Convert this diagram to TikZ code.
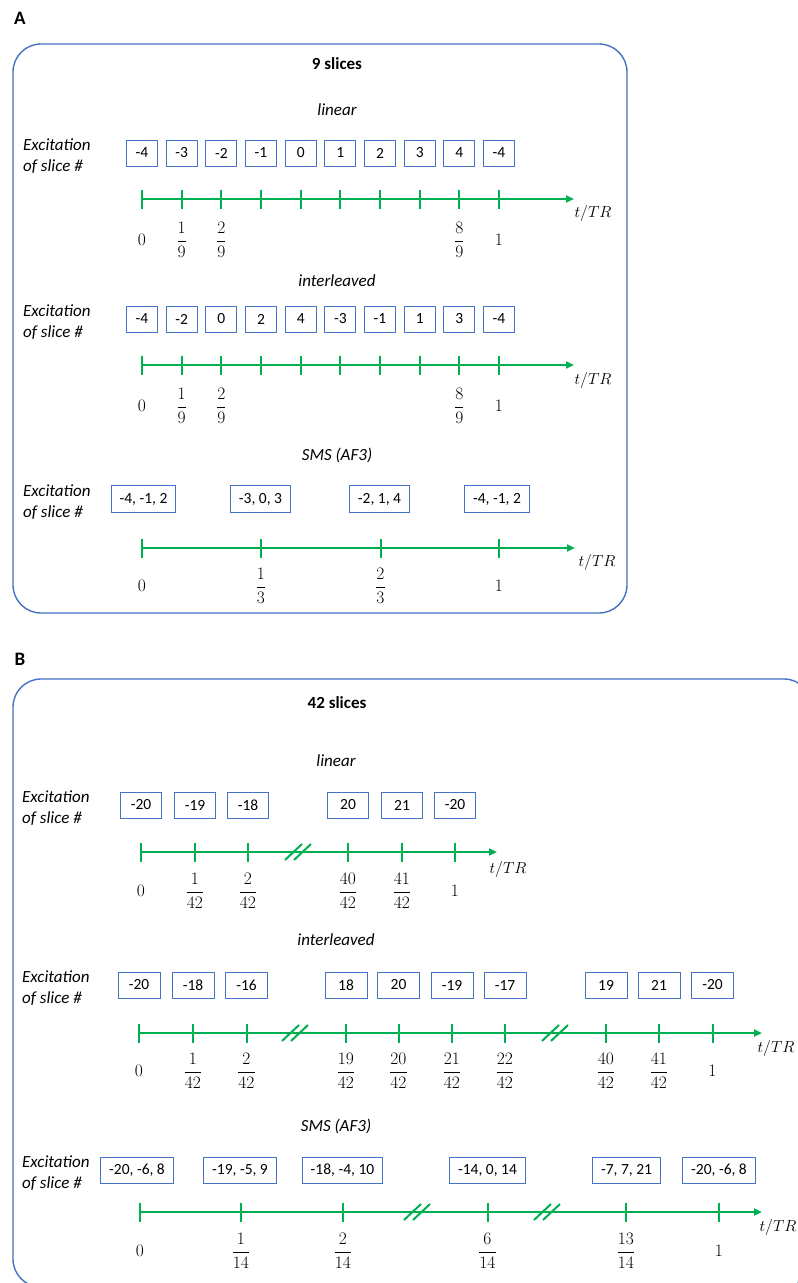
\RequirePackage{fix-cm}
\documentclass[tikz,border=0pt]{standalone}
\usepackage[no-math]{fontspec}
\setmainfont{Carlito}
\usetikzlibrary{arrows.meta}
\definecolor{boxblue}{RGB}{68,114,196}
\definecolor{axgreen}{RGB}{0,176,80}

\begin{document}
\begin{tikzpicture}[x=1pt, y=-1pt, >={Triangle[length=8pt,width=7pt]},
    slicebox/.style={draw=boxblue, line width=0.9pt, minimum width=31pt, minimum height=26pt,
      inner sep=0pt, font=\fontsize{15.5}{18}\selectfont},
    widebox/.style={slicebox, minimum width=41pt},
    smsbox/.style={slicebox, inner xsep=8.5pt},
    axisline/.style={axgreen, line width=2.6pt, ->},
    tickmark/.style={axgreen, line width=2pt},
    breakmark/.style={axgreen, line width=2pt},
    panel/.style={draw=boxblue, line width=1.4pt, rounded corners=28pt},
    heading/.style={font=\fontsize{17}{20}\selectfont\bfseries},
    rowtitle/.style={font=\fontsize{17}{20}\selectfont\itshape},
    rowlabel/.style={font=\fontsize{17}{21}\selectfont\itshape, align=left, anchor=west, inner sep=0pt},
    ticklabel/.style={font=\fontsize{17.5}{20}\selectfont, inner sep=0pt},
    axislabel/.style={font=\fontsize{16}{20}\selectfont, inner sep=0pt}]
    \useasboundingbox (0,0) rectangle (798,1283);

    % panel A
    \node[heading, font=\fontsize{19}{22}\selectfont\bfseries] (lblA) at (20,18) {A};
    \draw[panel] (13,44) rectangle (627,613);
    \node[heading] (titleA) at (337,64) {9 slices};

    % A: linear
    \node[rowtitle] (linA) at (337,110) {linear};
    \node[rowlabel] (excA1) at (23,156) {Excitation\\of slice \#};
    \foreach \v [count=\k from 0] in {-4,-3,-2,-1,0,1,2,3,4,-4}
        \node[slicebox] (linA-\k) at ({142+39.67*\k},153) {\v};
    \coordinate (linA-s) at (142,199);
    \coordinate (linA-e) at (574,199);
    \draw[axisline] (linA-s) -- (linA-e);
    \foreach \k in {0,...,9}
        \draw[tickmark] ({142+39.67*\k},189.5) -- ++(0,19);
    \foreach \x/\t [count=\k] in {142/0,181.7/\frac{1}{9},221.3/\frac{2}{9},459.3/\frac{8}{9},499/1}
        \node[ticklabel] (linA-l\k) at (\x,240) {$\displaystyle\t$};
    \node[axislabel] (linA-ax) at (593,213) {$t/TR$};

    % A: interleaved
    \node[rowtitle] (intA) at (337,281) {interleaved};
    \node[rowlabel] (excA2) at (23,322) {Excitation\\of slice \#};
    \foreach \v [count=\k from 0] in {-4,-2,0,2,4,-3,-1,1,3,-4}
        \node[slicebox] (intA-\k) at ({142+39.67*\k},319) {\v};
    \coordinate (intA-s) at (142,365);
    \coordinate (intA-e) at (574,365);
    \draw[axisline] (intA-s) -- (intA-e);
    \foreach \k in {0,...,9}
        \draw[tickmark] ({142+39.67*\k},355.5) -- ++(0,19);
    \foreach \x/\t [count=\k] in {142/0,181.7/\frac{1}{9},221.3/\frac{2}{9},459.3/\frac{8}{9},499/1}
        \node[ticklabel] (intA-l\k) at (\x,406) {$\displaystyle\t$};
    \node[axislabel] (intA-ax) at (593,380) {$t/TR$};

    % A: SMS
    \node[rowtitle] (smsA) at (337,455) {SMS (AF3)};
    \node[rowlabel] (excA3) at (23,502) {Excitation\\of slice \#};
    \foreach \x/\v [count=\k] in {143.5/{-4, -1, 2},260.5/{-3, 0, 3},379.5/{-2, 1, 4},497/{-4, -1, 2}}
        \node[smsbox, minimum height=27pt] (smsA-\k) at (\x,499) {\v};
    \coordinate (smsA-s) at (142,548);
    \coordinate (smsA-e) at (575,548);
    \draw[axisline] (smsA-s) -- (smsA-e);
    \foreach \x in {142,261,380.5,499}
        \draw[tickmark] (\x,538.5) -- ++(0,19);
    \foreach \x/\t [count=\k] in {142/0,261/\frac{1}{3},380.5/\frac{2}{3},499/1}
        \node[ticklabel] (smsA-l\k) at (\x,586) {$\displaystyle\t$};
    \node[axislabel] (smsA-ax) at (597,562) {$t/TR$};

    % panel B
    \node[heading, font=\fontsize{19}{22}\selectfont\bfseries] (lblB) at (20,659) {B};
    \begin{scope}
        \clip (0,0) rectangle (798,1283);
        \draw[panel] (13,679) rectangle (812,1287);
    \end{scope}
    \node[heading] (titleB) at (337,703) {42 slices};

    % B: linear
    \node[rowtitle] (linB) at (336,761) {linear};
    \node[rowlabel] (excB1) at (22,808) {Excitation\\of slice \#};
    \foreach \x/\v [count=\k] in {141/-20,195/-19,248/-18,348/20,402/21,455/-20}
        \node[widebox] (linB-\k) at (\x,805) {\v};
    \coordinate (linB-s) at (141,852);
    \coordinate (linB-e) at (497,852);
    \draw[axisline] (linB-s) -- (linB-e);
    \foreach \x in {141,195,248,348,402,455}
        \draw[tickmark] (\x,842.5) -- ++(0,19);
    \foreach \c in {298} {
        \draw[breakmark] ({\c-13},860) -- ++(17,-16);
        \draw[breakmark] ({\c-4},860) -- ++(17,-16);
    }
    \foreach \x/\t [count=\k] in {141/0,195/\frac{1}{42},248/\frac{2}{42},348/\frac{40}{42},402/\frac{41}{42},455/1}
        \node[ticklabel] (linB-l\k) at (\x,891) {$\displaystyle\t$};
    \node[axislabel] (linB-ax) at (508,869) {$t/TR$};

    % B: interleaved
    \node[rowtitle] (intB) at (336,940) {interleaved};
    \node[rowlabel] (excB2) at (22,988) {Excitation\\of slice \#};
    \foreach \x/\v [count=\k] in {139/-20,193/-18,246.5/-16,346/18,398.5/20,452/-19,505/-17,606/19,659/21,712.5/-20}
        \node[widebox, minimum width=42pt] (intB-\k) at (\x,985) {\v};
    \coordinate (intB-s) at (139,1033);
    \coordinate (intB-e) at (762,1033);
    \draw[axisline] (intB-s) -- (intB-e);
    \foreach \x in {139,193,246.5,346,398.5,452,505,606,659,712.5}
        \draw[tickmark] (\x,1023.5) -- ++(0,19);
    \foreach \c in {295,555} {
        \draw[breakmark] ({\c-13},1041) -- ++(17,-16);
        \draw[breakmark] ({\c-4},1041) -- ++(17,-16);
    }
    \foreach \x/\t [count=\k] in {139/0,193/\frac{1}{42},246.5/\frac{2}{42},346/\frac{19}{42},398.5/\frac{20}{42},
        452/\frac{21}{42},505/\frac{22}{42},606/\frac{40}{42},659/\frac{41}{42},712.5/1}
        \node[ticklabel] (intB-l\k) at (\x,1071) {$\displaystyle\t$};
    \node[axislabel] (intB-ax) at (776,1048) {$t/TR$};

    % B: SMS
    \node[rowtitle] (smsB) at (336,1126) {SMS (AF3)};
    \node[rowlabel] (excB3) at (22,1173) {Excitation\\of slice \#};
    \foreach \x/\v [count=\k] in {137/{-20, -6, 8},240/{-19, -5, 9},342.5/{-18, -4, 10},487.5/{-14, 0, 14},
        626.5/{-7, 7, 21},719/{-20, -6, 8}}
        \node[smsbox] (smsB-\k) at (\x,1170) {\v};
    \coordinate (smsB-s) at (140,1212);
    \coordinate (smsB-e) at (762,1212);
    \draw[axisline] (smsB-s) -- (smsB-e);
    \foreach \x in {140,241,343,487.5,626,719}
        \draw[tickmark] (\x,1202.5) -- ++(0,19);
    \foreach \c in {417,547} {
        \draw[breakmark] ({\c-13},1220) -- ++(17,-16);
        \draw[breakmark] ({\c-4},1220) -- ++(17,-16);
    }
    \foreach \x/\t [count=\k] in {140/0,241/\frac{1}{14},343/\frac{2}{14},487.5/\frac{6}{14},626/\frac{13}{14},719/1}
        \node[ticklabel] (smsB-l\k) at (\x,1251) {$\displaystyle\t$};
    \node[axislabel] (smsB-ax) at (778,1227) {$t/TR$};
\end{tikzpicture}
\end{document}
